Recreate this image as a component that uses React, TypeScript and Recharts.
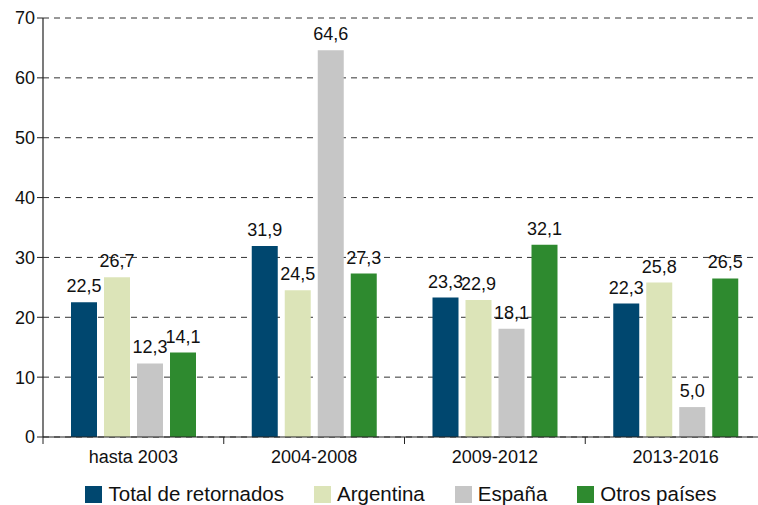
import { BarChart, Bar, XAxis, YAxis, CartesianGrid, Legend, LabelList } from "recharts";
import type { CSSProperties } from "react";

const PERIODS = ["hasta 2003", "2004-2008", "2009-2012", "2013-2016"];
const TOTAL = [22.5, 31.9, 23.3, 22.3];
const ARGENTINA = [26.7, 24.5, 22.9, 25.8];
const ESPANA = [12.3, 64.6, 18.1, 5.0];
const OTROS = [14.1, 27.3, 32.1, 26.5];
const Y_TICKS = [0, 10, 20, 30, 40, 50, 60, 70];

const SERIES = [
  { key: "total", name: "Total de retornados", color: "#00476f" },
  { key: "argentina", name: "Argentina", color: "#dce4b8" },
  { key: "espana", name: "España", color: "#c6c6c6" },
  { key: "otros", name: "Otros países", color: "#2e8a2f" },
];

const data = PERIODS.map((period, i) => ({
  period,
  total: TOTAL[i],
  argentina: ARGENTINA[i],
  espana: ESPANA[i],
  otros: OTROS[i],
}));

const FONT = "'Liberation Sans', Arial, sans-serif";
const TICK_SIZE = 6;
const TICK_MARGIN = 6;

const fmt = (v: unknown) => Number(v).toFixed(1).replace(".", ",");

function LegendRow() {
  return (
    <div style={legendRow}>
      {SERIES.map((s) => (
        <span key={s.key} style={{ display: "flex", alignItems: "center", gap: 6 }}>
          <span style={{ width: 17, height: 17, background: s.color, display: "inline-block" }} />
          <span>{s.name}</span>
        </span>
      ))}
    </div>
  );
}

// category label, plus tick marks on the category boundaries
function PeriodTick(props: any) {
  const { x, y, payload, index, visibleTicksCount, width } = props;
  const band = width / visibleTicksCount;
  const axisY = y - TICK_SIZE - TICK_MARGIN;
  const left = x - band / 2;
  return (
    <g>
      <line x1={left} x2={left} y1={axisY} y2={axisY + 7} stroke="#222" />
      {index === visibleTicksCount - 1 && (
        <line x1={x + band / 2} x2={x + band / 2} y1={axisY} y2={axisY + 7} stroke="#222" />
      )}
      <text x={x} y={y} dy={14} textAnchor="middle" fontFamily={FONT} fontSize={18} fill="#111">
        {payload.value}
      </text>
    </g>
  );
}

export default function App() {
  return (
    <div style={frame}>
      <BarChart
        width={772}
        height={505}
        data={data}
        margin={{ top: 18, right: 6, left: 0, bottom: 0 }}
        barCategoryGap={28}
        barGap={7}
      >
        <CartesianGrid vertical={false} stroke="#333" strokeDasharray="6 5" />
        <XAxis
          dataKey="period"
          height={42}
          tickLine={false}
          tickSize={TICK_SIZE}
          tickMargin={TICK_MARGIN}
          axisLine={{ stroke: "#222", strokeWidth: 1.2 }}
          tick={<PeriodTick />}
          interval={0}
        />
        <YAxis
          width={43}
          domain={[0, 70]}
          ticks={Y_TICKS}
          tick={{ fontFamily: FONT, fontSize: 18, fill: "#111" }}
          tickLine={{ stroke: "#222" }}
          tickSize={6}
          axisLine={{ stroke: "#222", strokeWidth: 1.2 }}
        />
        <Legend verticalAlign="bottom" height={26} content={() => <LegendRow />} />
        {SERIES.map((s) => (
          <Bar key={s.key} dataKey={s.key} name={s.name} fill={s.color} isAnimationActive={false}>
            <LabelList
              dataKey={s.key}
              position="top"
              offset={10}
              formatter={fmt}
              style={{ fontFamily: FONT, fontSize: 18, fill: "#111" }}
            />
          </Bar>
        ))}
      </BarChart>
    </div>
  );
}

const frame: CSSProperties = {
  position: "absolute",
  left: 0,
  top: 0,
  width: 758,
  height: 505,
  overflow: "hidden",
  background: "#fff",
};

const legendRow: CSSProperties = {
  display: "flex",
  justifyContent: "center",
  gap: 30,
  width: 758,
  paddingLeft: 44,
  paddingTop: 2,
  boxSizing: "border-box",
  fontFamily: FONT,
  fontSize: 20.5,
  color: "#111",
  lineHeight: "26px",
};
